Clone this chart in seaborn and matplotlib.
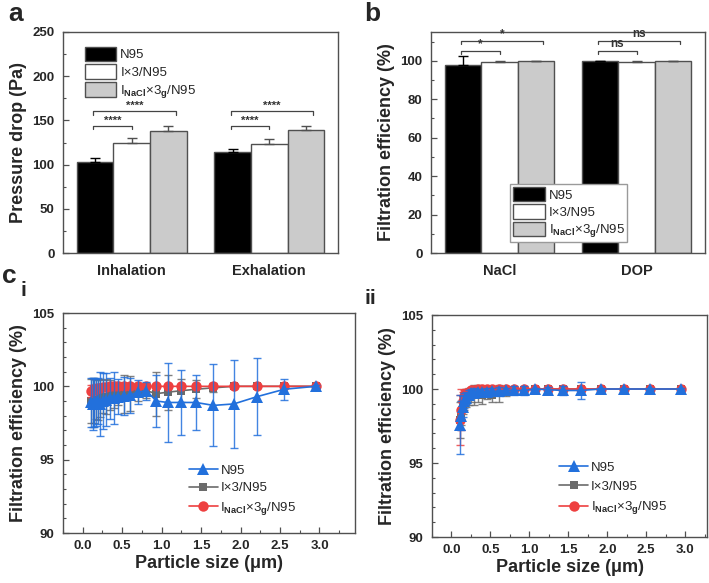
import numpy as np
import pandas as pd
import seaborn as sns
import matplotlib.pyplot as plt
from matplotlib.ticker import MultipleLocator

sns.set_theme(style="ticks")
plt.rcParams["font.family"] = ["Liberation Sans", "DejaVu Sans"]
plt.rcParams["font.weight"] = "bold"
plt.rcParams["axes.labelweight"] = "bold"
plt.rcParams["mathtext.fontset"] = "custom"
plt.rcParams["mathtext.rm"] = "Liberation Sans"

samples = ["N95", "I×3/N95", r"I$_{\mathrm{NaCl}}$×3$_{\mathrm{g}}$/N95"]

# panel a - pressure drop (Pa)
pd_groups = ["Inhalation", "Exhalation"]
pd_n95 = [102.5, 114.0]
pd_i3 = [124.5, 123.5]
pd_inacl = [138.5, 139.5]
pd_n95_err = [5.0, 4.0]
pd_i3_err = [6.0, 6.0]
pd_inacl_err = [5.0, 4.0]
pd_sig = ["****", "****"]

# panel b - filtration efficiency (%)
fe_groups = ["NaCl", "DOP"]
fe_n95 = [98.0, 99.7]
fe_i3 = [99.5, 99.5]
fe_inacl = [99.8, 99.7]
fe_n95_err = [4.5, 0.2]
fe_i3_err = [0.5, 0.4]
fe_inacl_err = [0.15, 0.2]
fe_sig_short = ["*", "ns"]
fe_sig_long = ["*", "ns"]

# panel c - size resolved efficiency
sizes = [0.107, 0.124, 0.143, 0.165, 0.191, 0.220, 0.255, 0.294, 0.340, 0.392,
         0.453, 0.524, 0.605, 0.698, 0.807, 0.932, 1.076, 1.243, 1.435, 1.657,
         1.914, 2.211, 2.554, 2.950]

ci_n95 = [98.9, 98.8, 98.9, 98.9, 99.0, 98.8, 99.0, 99.1, 99.2, 99.2,
          99.3, 99.35, 99.4, 99.6, 99.7, 99.0, 98.9, 98.9, 98.9, 98.7,
          98.8, 99.3, 99.8, 100.0]
ci_n95_err = [1.7, 1.8, 1.7, 1.6, 1.6, 2.2, 1.9, 1.8, 1.4, 1.8,
              1.2, 1.3, 1.2, 0.8, 0.6, 1.8, 2.7, 2.2, 1.9, 2.8,
              3.0, 2.6, 0.7, 0.1]
ci_i3 = [99.0, 98.9, 99.0, 99.1, 99.1, 99.2, 99.3, 99.3, 99.4, 99.4,
         99.5, 99.5, 99.5, 99.6, 99.7, 99.5, 99.6, 99.7, 99.8, 99.9,
         100.0, 100.0, 100.0, 100.0]
ci_i3_err = [1.5, 1.7, 1.5, 1.3, 1.4, 1.3, 1.1, 1.2, 1.0, 0.9,
             0.8, 1.3, 1.2, 0.6, 0.5, 1.5, 1.2, 0.8, 0.6, 0.3,
             0.1, 0.05, 0.05, 0.05]
ci_inacl = [99.7, 99.75, 99.8, 99.85, 99.9, 99.9, 99.95, 99.95, 100.0, 100.0,
            100.0, 100.0, 100.0, 100.0, 100.0, 100.0, 100.0, 100.0, 100.0, 100.0,
            100.0, 100.0, 100.0, 100.0]
ci_inacl_err = [0.4, 0.35, 0.3, 0.3, 0.25, 0.2, 0.2, 0.15, 0.1, 0.1,
                0.1, 0.1, 0.1, 0.1, 0.05, 0.05, 0.05, 0.05, 0.05, 0.05,
                0.05, 0.05, 0.05, 0.05]

cii_n95 = [97.6, 98.2, 98.8, 99.2, 99.4, 99.6, 99.7, 99.75, 99.8, 99.8,
           99.8, 99.85, 99.85, 99.9, 99.9, 99.9, 100.0, 99.95, 99.9, 99.9,
           100.0, 100.0, 100.0, 100.0]
cii_n95_err = [2.0, 1.0, 0.7, 0.5, 0.4, 0.3, 0.3, 0.3, 0.2, 0.2,
               0.3, 0.2, 0.3, 0.2, 0.3, 0.3, 0.1, 0.2, 0.3, 0.6,
               0.1, 0.05, 0.05, 0.05]
cii_i3 = [97.9, 98.4, 98.9, 99.2, 99.4, 99.5, 99.6, 99.6, 99.7, 99.6,
          99.7, 99.6, 99.7, 99.8, 99.9, 99.95, 100.0, 100.0, 100.0, 100.0,
          100.0, 100.0, 100.0, 100.0]
cii_i3_err = [1.2, 0.8, 0.6, 0.6, 0.6, 0.6, 0.5, 0.7, 0.6, 0.6,
              0.4, 0.5, 0.6, 0.3, 0.2, 0.1, 0.05, 0.05, 0.05, 0.05,
              0.05, 0.05, 0.05, 0.05]
cii_inacl = [97.9, 98.6, 99.2, 99.5, 99.7, 99.8, 99.9, 99.95, 100.0, 100.0,
             100.0, 100.0, 100.0, 100.0, 100.0, 100.0, 100.0, 100.0, 100.0, 100.0,
             100.0, 100.0, 100.0, 100.0]
cii_inacl_err = [1.7, 1.4, 0.6, 0.4, 0.3, 0.2, 0.2, 0.1, 0.1, 0.1,
                 0.1, 0.1, 0.1, 0.1, 0.05, 0.05, 0.05, 0.05, 0.05, 0.05,
                 0.05, 0.05, 0.05, 0.05]

bar_colors = ["black", "white", "#cbcbcb"]
line_colors = ["#2270dc", "#6b6b6b", "#ee4040"]
line_markers = ["^", "s", "o"]
marker_sizes = [8, 6, 7.5]
edge = "#505050"


def style_axes(ax):
    for sp in ax.spines.values():
        sp.set_color(edge)
        sp.set_linewidth(1.0)
    ax.tick_params(which="both", direction="in", color=edge, labelsize=9.5)
    ax.tick_params(which="major", length=4, width=0.9, pad=6)
    ax.tick_params(which="minor", length=2.5, width=0.8)


def bracket(ax, x1, x2, y, h, text, fs):
    ax.plot([x1, x1, x2, x2], [y - h, y, y, y - h], color="#444444", lw=0.9)
    ax.text((x1 + x2) / 2, y + h * 0.15, text, ha="center", va="bottom",
            fontsize=fs, fontweight="bold", color="#333333")


def bar_panel(ax, groups, vals, errs, ylim, major, minor, ylabel):
    df = pd.concat([
        pd.DataFrame({"group": groups, "value": v, "sample": s})
        for v, s in zip(vals, samples)
    ])
    sns.barplot(data=df, x="group", y="value", hue="sample", palette=bar_colors,
                errorbar=None, width=0.8, edgecolor=edge, linewidth=1.0,
                legend=False, ax=ax)
    bars = list(ax.containers)
    for cont, e, c in zip(bars, errs, bar_colors):
        for bar, err in zip(cont, e):
            x = bar.get_x() + bar.get_width() / 2
            h = bar.get_height()
            ax.errorbar(x, h, yerr=[[0], [err]], fmt="none",
                        ecolor="black" if c == "black" else edge,
                        elinewidth=1.0, capsize=3.5, capthick=1.0, zorder=3)
    ax.set_xlim(-0.5, 1.5)
    ax.set_ylim(*ylim)
    ax.yaxis.set_major_locator(MultipleLocator(major))
    ax.yaxis.set_minor_locator(MultipleLocator(minor))
    ax.set_xlabel("")
    ax.set_ylabel(ylabel, fontsize=13)
    style_axes(ax)
    ax.tick_params(axis="x", length=0, labelsize=10.5, pad=8)
    return [cont.patches[0] for cont in bars]


def curve_panel(ax, means, errs, xmax):
    handles = [None, None, None]
    order = [1, 2, 0]
    for k, i in enumerate(order):
        ax.errorbar(sizes, means[i], yerr=errs[i], fmt="none",
                    ecolor=line_colors[i], elinewidth=1.0, capsize=3,
                    capthick=1.0, alpha=0.85, zorder=2 + 2 * k)
        sns.lineplot(x=sizes, y=means[i], color=line_colors[i],
                     marker=line_markers[i], ms=marker_sizes[i], mew=0,
                     lw=1.2, errorbar=None, ax=ax, zorder=3 + 2 * k)
        handles[i] = ax.lines[-1]
    ax.set_xlim(-0.25, xmax)
    ax.set_ylim(90, 105)
    ax.xaxis.set_major_locator(MultipleLocator(0.5))
    ax.xaxis.set_minor_locator(MultipleLocator(0.25))
    ax.yaxis.set_major_locator(MultipleLocator(5))
    ax.yaxis.set_minor_locator(MultipleLocator(1))
    ax.set_xlabel("Particle size (μm)", fontsize=13, labelpad=2)
    ax.set_ylabel("Filtration efficiency (%)", fontsize=13)
    style_axes(ax)
    ax.tick_params(axis="x", pad=5)
    return handles


fig = plt.figure(figsize=(7.09, 5.83), dpi=100)
W, H = 709, 583
ax_a = fig.add_axes([63 / W, 1 - 253 / H, (338 - 63) / W, (253 - 32) / H])
ax_b = fig.add_axes([431 / W, 1 - 253 / H, (705 - 431) / W, (253 - 32) / H])
ax_ci = fig.add_axes([63 / W, 1 - 533 / H, (355 - 63) / W, (533 - 313) / H])
ax_cii = fig.add_axes([432 / W, 1 - 537 / H, (707 - 432) / W, (537 - 315) / H])

# a
h_a = bar_panel(ax_a, pd_groups, [pd_n95, pd_i3, pd_inacl],
                [pd_n95_err, pd_i3_err, pd_inacl_err], (0, 250), 50, 25,
                "Pressure drop (Pa)")
for g, s in enumerate(pd_sig):
    bracket(ax_a, g - 0.28, g + 0.0, 143.5, 3.5, s, 8)
    bracket(ax_a, g - 0.28, g + 0.32, 160.5, 4.0, s, 8)
ax_a.legend(h_a, samples, loc="upper left", bbox_to_anchor=(0.05, 0.97),
            frameon=False, prop={"weight": "normal", "size": 9.5},
            handlelength=2.4, handleheight=1.3, labelspacing=0.25,
            handletextpad=0.3, borderaxespad=0.2)

# b
h_b = bar_panel(ax_b, fe_groups, [fe_n95, fe_i3, fe_inacl],
                [fe_n95_err, fe_i3_err, fe_inacl_err], (0, 115), 20, 10,
                "Filtration efficiency (%)")
for g in range(2):
    bracket(ax_b, g - 0.28, g + 0.0, 105.2, 1.6, fe_sig_short[g], 8.5)
    bracket(ax_b, g - 0.28, g + 0.32, 110.4, 1.5, fe_sig_long[g], 8.5)
ax_b.legend(h_b, samples, loc="lower left", bbox_to_anchor=(0.29, 0.05),
            frameon=True, fancybox=False, edgecolor="#9a9a9a",
            framealpha=1, prop={"weight": "normal", "size": 9.5},
            handlelength=2.4, handleheight=1.3, labelspacing=0.2,
            handletextpad=0.3, borderpad=0.2, borderaxespad=0)

# c
h_ci = curve_panel(ax_ci, [ci_n95, ci_i3, ci_inacl],
                   [ci_n95_err, ci_i3_err, ci_inacl_err], 3.45)
ax_ci.legend(h_ci, samples, loc="lower left", bbox_to_anchor=(0.39, 0.02),
             frameon=False, prop={"weight": "normal", "size": 9.5},
             handlelength=2.2, labelspacing=0.4, handletextpad=0.2)
h_cii = curve_panel(ax_cii, [cii_n95, cii_i3, cii_inacl],
                    [cii_n95_err, cii_i3_err, cii_inacl_err], 3.28)
ax_cii.legend(h_cii, samples, loc="lower left", bbox_to_anchor=(0.42, 0.04),
              frameon=False, prop={"weight": "normal", "size": 9.5},
              handlelength=2.2, labelspacing=0.5, handletextpad=0.2)

fig.text(8 / W, 1 - 14 / H, "a", fontsize=19, fontweight="bold", va="center")
fig.text(364 / W, 1 - 14 / H, "b", fontsize=19, fontweight="bold", va="center")
fig.text(2 / W, 1 - 276 / H, "c", fontsize=19, fontweight="bold", va="center")
fig.text(21 / W, 1 - 291 / H, "i", fontsize=15, fontweight="bold", va="center")
fig.text(365 / W, 1 - 298 / H, "ii", fontsize=15, fontweight="bold", va="center")

fig.savefig("out.png", dpi=100)
